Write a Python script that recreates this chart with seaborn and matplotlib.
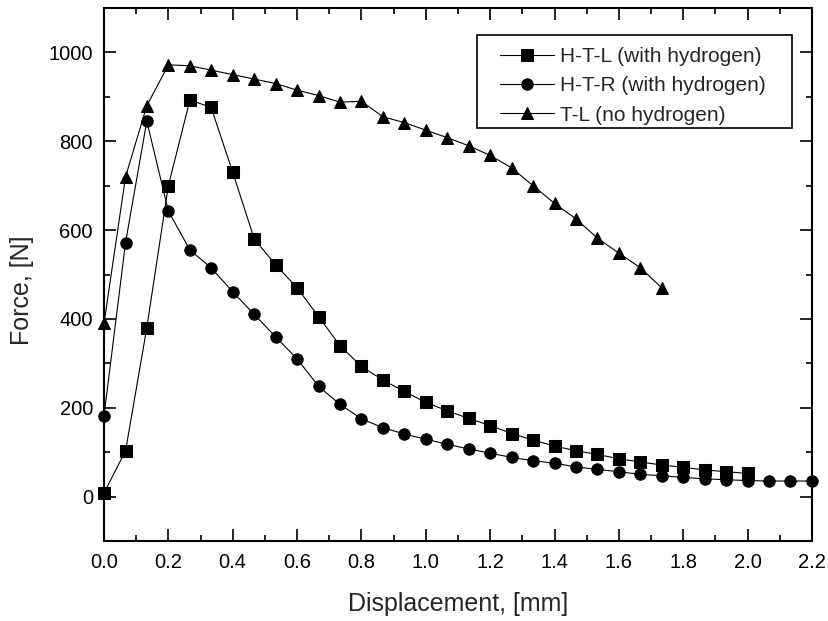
import numpy as np
import pandas as pd
import matplotlib
matplotlib.use("Agg")
import matplotlib.pyplot as plt
import seaborn as sns
from matplotlib.ticker import MultipleLocator
from matplotlib.patches import Rectangle

# ---- data ----
disp = [0.0, 0.067, 0.133, 0.2, 0.267, 0.333, 0.4, 0.467, 0.533, 0.6, 0.667,
        0.733, 0.8, 0.867, 0.933, 1.0, 1.067, 1.133, 1.2, 1.267, 1.333, 1.4,
        1.467, 1.533, 1.6, 1.667, 1.733, 1.8, 1.867, 1.933, 2.0, 2.067, 2.133, 2.2]

htl_force = [8, 103, 380, 700, 893, 876, 730, 580, 522, 470, 405, 340, 293,
             262, 237, 212, 193, 176, 160, 142, 127, 114, 103, 95, 85, 78, 71,
             66, 60, 56, 52]

htr_force = [182, 572, 845, 643, 555, 515, 461, 410, 360, 310, 248, 208, 175,
             155, 141, 129, 118, 107, 98, 88, 81, 75, 67, 61, 56, 50, 47, 43,
             40, 38, 36, 35, 35, 35]

tl_force = [390, 720, 880, 972, 970, 960, 950, 940, 930, 915, 903, 888, 890,
            855, 842, 825, 808, 790, 768, 740, 700, 660, 625, 582, 548, 515, 470]

labels = ["H-T-L (with hydrogen)", "H-T-R (with hydrogen)", "T-L (no hydrogen)"]
markers = ["s", "o", "^"]
msizes = [8.3, 8.2, 9.3]

x_ticks = [0.0, 0.2, 0.4, 0.6, 0.8, 1.0, 1.2, 1.4, 1.6, 1.8, 2.0, 2.2]
y_ticks = [0, 200, 400, 600, 800, 1000]

# ---- style ----
sns.set_style("ticks")
plt.rcParams["font.family"] = ["Liberation Sans", "DejaVu Sans"]

fig = plt.figure(figsize=(8.29, 6.21), dpi=100)
ax = fig.add_axes([104 / 829, 1 - 541 / 621, 708 / 829, 533 / 621])

series = [htl_force, htr_force, tl_force]
for vals, lab, mk, ms in zip(series, labels, markers, msizes):
    df = pd.DataFrame({"x": disp[:len(vals)], "y": vals})
    sns.lineplot(data=df, x="x", y="y", ax=ax, sort=False, color="black",
                 linewidth=0.8, marker=mk, markersize=ms,
                 markeredgecolor="black", markerfacecolor="black",
                 label=lab, estimator=None, clip_on=False)

ax.set_xlim(0.0, 2.2)
ax.set_ylim(-100, 1100)
ax.set_xticks(x_ticks)
ax.set_xticklabels([f"{t:.1f}" for t in x_ticks])
ax.set_yticks(y_ticks)
ax.xaxis.set_minor_locator(MultipleLocator(0.1))
ax.yaxis.set_minor_locator(MultipleLocator(100))

ax.tick_params(which="both", direction="in", top=True, right=True,
               width=1.2, labelsize=14.5, colors="black")
ax.tick_params(which="major", length=8.5)
ax.tick_params(which="minor", length=4.5)
ax.tick_params(axis="x", which="major", pad=8.5)
ax.tick_params(axis="y", which="major", pad=8)
for s in ax.spines.values():
    s.set_linewidth(1.5)
    s.set_color("black")

ax.set_xlabel("Displacement, [mm]", fontsize=18, labelpad=14.5)
ax.set_ylabel("Force, [N]", fontsize=18, labelpad=10)
ax.yaxis.label.set_y(0.471)

# legend (frame drawn separately so the inner padding matches the reference)
leg = ax.legend(loc="upper left", bbox_to_anchor=(0.559, 0.927),
                fontsize=15, frameon=False, handlelength=2.6, numpoints=1,
                borderpad=0.0, labelspacing=0.5, handletextpad=0.3,
                borderaxespad=0.0)
box = Rectangle((0.527, 0.775), 0.972 - 0.527, 0.949 - 0.775,
                transform=ax.transAxes, fill=True, facecolor="white",
                edgecolor="black", linewidth=1.2, zorder=4)
ax.add_patch(box)
leg.set_zorder(5)

fig.savefig("out.png", dpi=100)
